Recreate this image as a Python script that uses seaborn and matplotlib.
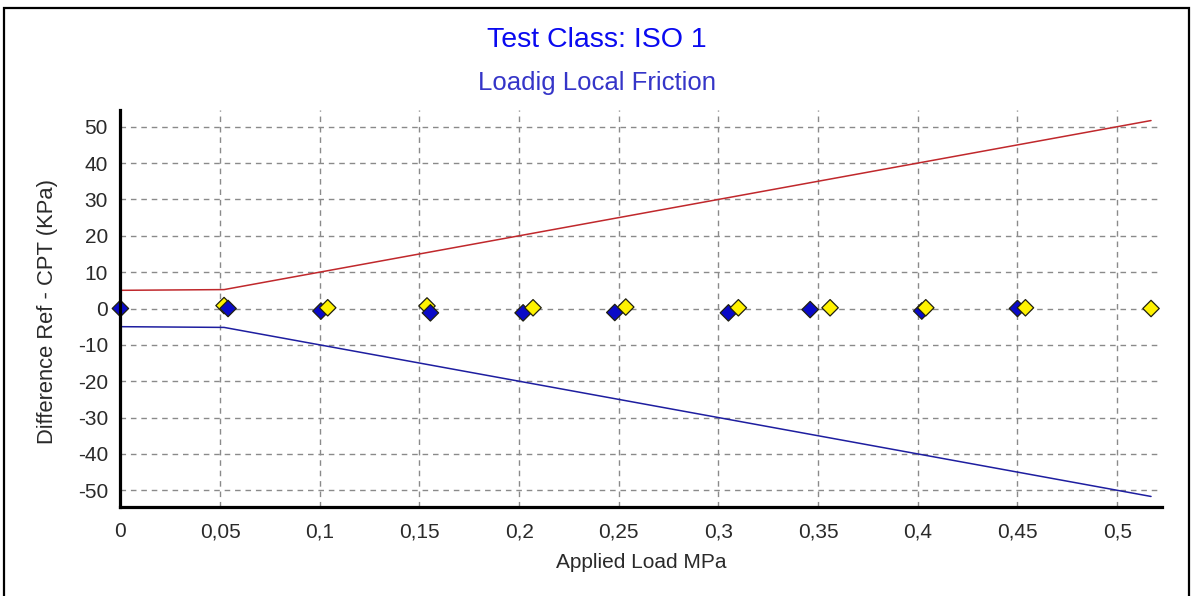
import matplotlib
matplotlib.use("Agg")
import matplotlib.pyplot as plt
from matplotlib.patches import Rectangle
from matplotlib.ticker import MultipleLocator, FixedLocator, FixedFormatter
import numpy as np
import pandas as pd
import seaborn as sns

# Measured differences (Ref - CPT) per applied load step
blue_load = [0.0, 0.054, 0.1006, 0.1555, 0.202, 0.248, 0.305, 0.346, 0.402, 0.450]
blue_diff = [0.0, 0.0, -0.7, -1.2, -1.2, -1.1, -1.2, -0.3, -0.7, 0.0]
yellow_load = [0.052, 0.104, 0.1538, 0.207, 0.2535, 0.310, 0.356, 0.404, 0.454, 0.517]
yellow_diff = [0.8, 0.2, 0.7, 0.2, 0.4, 0.2, 0.2, 0.2, 0.2, 0.0]

# Tolerance band limits (kPa)
band_load = [0.0, 0.052, 0.104, 0.154, 0.207, 0.2535, 0.310, 0.356, 0.404, 0.454, 0.517]
band_upper = [5.0, 5.2, 10.4, 15.4, 20.7, 25.35, 31.0, 35.6, 40.4, 45.4, 51.7]
band_lower = [-5.0, -5.2, -10.4, -15.4, -20.7, -25.35, -31.0, -35.6, -40.4, -45.4, -51.7]

x_ticks = [0.0, 0.05, 0.1, 0.15, 0.2, 0.25, 0.3, 0.35, 0.4, 0.45, 0.5]
x_tick_labels = ["0", "0,05", "0,1", "0,15", "0,2", "0,25", "0,3", "0,35", "0,4", "0,45", "0,5"]
y_ticks = [-50, -40, -30, -20, -10, 0, 10, 20, 30, 40, 50]

title = "Test Class: ISO 1"
subtitle = "Loadig Local Friction"
x_label = "Applied Load MPa"
y_label = "Difference Ref - CPT (KPa)"

sns.set_theme(style="white")
plt.rcParams["font.family"] = ["Liberation Sans", "DejaVu Sans"]
plt.rcParams["axes.unicode_minus"] = False

W, H = 1194, 596
fig = plt.figure(figsize=(W / 100, H / 100), dpi=100)
fig.patch.set_facecolor("white")

ax_left, ax_right = 120.4 / W, 1162.0 / W
ax_top, ax_bottom = 1 - 110 / H, 1 - 507 / H
ax = fig.add_axes([ax_left, ax_bottom, ax_right - ax_left, ax_top - ax_bottom])
ax.set_facecolor("white")

# tolerance band
band = pd.DataFrame({"load": band_load, "upper": band_upper, "lower": band_lower})
sns.lineplot(data=band, x="load", y="upper", ax=ax, color="#C0282C", lw=1.1,
             estimator=None, sort=False, zorder=3)
sns.lineplot(data=band, x="load", y="lower", ax=ax, color="#1E1EA0", lw=1.1,
             estimator=None, sort=False, zorder=3)

# measured points, interleaved so overlapping pairs stack in the drawn order
rows = []
order = [("b", 0), ("y", 0), ("b", 1), ("b", 2), ("y", 1), ("y", 2), ("b", 3),
         ("b", 4), ("y", 3), ("b", 5), ("y", 4), ("b", 6), ("y", 5), ("b", 7),
         ("y", 6), ("b", 8), ("y", 7), ("b", 9), ("y", 8), ("y", 9)]
for s, i in order:
    if s == "b":
        rows.append({"load": blue_load[i], "diff": blue_diff[i], "series": "CPT"})
    else:
        rows.append({"load": yellow_load[i], "diff": yellow_diff[i], "series": "Ref"})
pts = pd.DataFrame(rows)
sns.scatterplot(data=pts, x="load", y="diff", hue="series",
                palette={"CPT": "#0A0AC8", "Ref": "#FFF200"},
                marker="D", s=70, edgecolor="#202010", linewidth=0.9,
                ax=ax, zorder=4, legend=False, clip_on=False)

ax.set_xlim(0, 0.5225)
ax.set_ylim(-54.6, 54.6)

ax.xaxis.set_major_locator(FixedLocator(x_ticks))
ax.xaxis.set_major_formatter(FixedFormatter(x_tick_labels))
ax.xaxis.set_minor_locator(MultipleLocator(0.0125))
ax.yaxis.set_major_locator(FixedLocator(y_ticks))
ax.yaxis.set_minor_locator(MultipleLocator(2))

ax.grid(True, which="major", color="#8a8a8a", linestyle=(0, (4, 3.5)), linewidth=1.0, zorder=1)
ax.set_axisbelow(True)

for side in ("top", "right"):
    ax.spines[side].set_visible(False)
for side in ("left", "bottom"):
    ax.spines[side].set_visible(True)
    ax.spines[side].set_color("black")
    ax.spines[side].set_linewidth(2.3)
    ax.spines[side].set_zorder(5)

ax.tick_params(axis="both", which="major", direction="inout", length=8, width=1.0,
               color="#555555", labelsize=15, labelcolor="#2a2a2a")
ax.tick_params(axis="both", which="minor", direction="out", length=3.5, width=1.0,
               color="#555555")
ax.tick_params(axis="x", which="major", pad=7)
ax.tick_params(axis="y", which="major", pad=5)

ax.set_xlabel("")
ax.set_ylabel("")
fig.text(641 / W, 1 - 563 / H, x_label, ha="center", va="center", fontsize=15, color="#2a2a2a")
fig.text(48 / W, 1 - 312 / H, y_label, ha="center", va="center", rotation=90,
         fontsize=15.8, color="#2a2a2a")

fig.text(597 / W, 1 - 40 / H, title, ha="center", va="center", fontsize=20.5, color="#0A0AF0")
fig.text(597 / W, 1 - 83 / H, subtitle, ha="center", va="center", fontsize=18.5, color="#3535C8")

# outer frame of the chart panel
fig.add_artist(Rectangle((4 / W, -0.02), (1189 - 4) / W, (1 - 8 / H) + 0.02,
                         transform=fig.transFigure, fill=False, edgecolor="black",
                         linewidth=1.6, clip_on=False))

fig.savefig("out.png", dpi=100, facecolor="white")
